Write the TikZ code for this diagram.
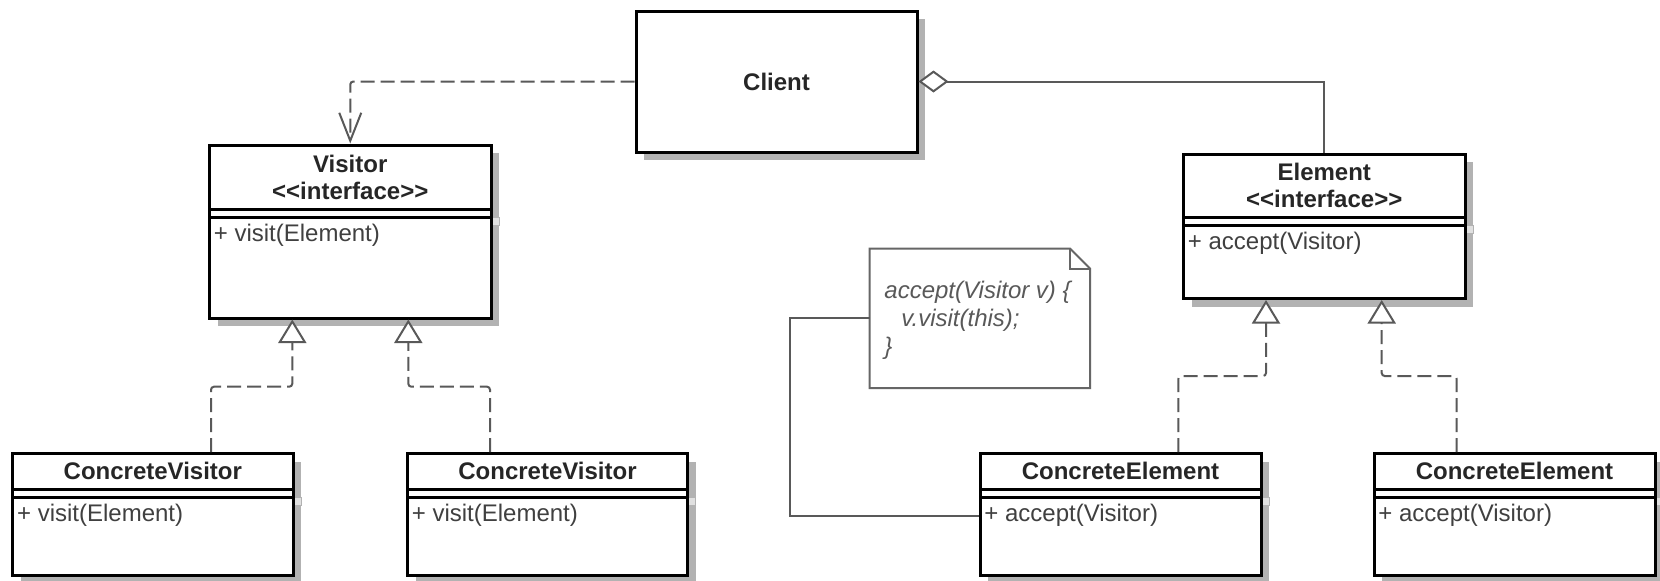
\documentclass[tikz,border=0pt]{standalone}
\usepackage{fontspec}
\setmainfont{Liberation Sans}
\usetikzlibrary{arrows.meta}

% stereotype brackets kept as separate characters (no guillemet ligature)
\newcommand\ltlt{<\kern0pt<}
\newcommand\gtgt{>\kern0pt>}

\tikzset{
  shadowfill/.style={fill=black!30},
  shadowrule/.style={draw=black!30, fill=black!12, line width=0.5pt},
  classframe/.style={draw=black, line width=1.5pt, fill=white, inner sep=0pt},
  classrule/.style={draw=black, line width=1.5pt},
  classtitle/.style={font=\bfseries\fontsize{12}{13.5}\selectfont, text=black!85, align=center, inner sep=0pt},
  classop/.style={anchor=west, font=\fontsize{12}{13.5}\selectfont, text=black!75, inner sep=0pt},
  connector/.style={draw=black!65, line width=1pt},
  realize/.style={connector, dash pattern=on 7pt off 3pt, rounded corners=1.5pt,
    -{Triangle[open, fill=white, length=11.75pt, width=14pt]}},
  depends/.style={connector, dash pattern=on 7pt off 3pt, rounded corners=1.5pt,
    -{Straight Barb[length=14pt, width=11pt]}},
  aggregate/.style={connector, {Diamond[open, fill=white, length=15pt, width=11pt]}-},
  notebody/.style={draw=black!60, line width=1pt, fill=white},
  notetext/.style={font=\itshape\fontsize{12}{14}\selectfont, text=black!65, align=left, inner sep=0pt, anchor=west},
}

% UML class: name, left, top, right, header bottom, operations top, bottom, title, operation
\newcommand\umlclass[9]{%
  \fill[shadowfill] ({#2+8},{#3+8}) rectangle ({#4+8},{#5+8});
  \fill[shadowfill] ({#2+8},{#6+8}) rectangle ({#4+8},{#7+8});
  \filldraw[shadowrule] ({#2+8},{#5+8}) rectangle ({#4+8},{#6+8});
  \node[classframe, minimum width={(#4-#2)*0.5pt}, minimum height={(#7-#3)*0.5pt}]
    (#1) at ({(#2+#4)/2},{(#3+#7)/2}) {};
  \draw[classrule] (#2,#5) -- (#4,#5) (#2,#6) -- (#4,#6);
  \node[classtitle] (#1-name) at ({(#2+#4)/2},{(#3+#5)/2}) {#8};
  \node[classop] (#1-op) at ({#2+4},{#6+18}) {#9};
}

\begin{document}
\begin{tikzpicture}[x=0.5pt, y=-0.5pt]
  \fill[white] (0,0) rectangle (1660,580);
  \useasboundingbox (0,0) rectangle (1660,580);

  % client
  \fill[shadowfill] (644,19) rectangle (925,160);
  \node[classframe, minimum width=140.5pt, minimum height=70.5pt,
        font=\bfseries\fontsize{12}{13.5}\selectfont, text=black!85]
    (client) at (776.5,81.5) {Client};

  % classes
  \umlclass{visitor}{209.5}{145}{491}{209.5}{217.5}{318}{Visitor\\\ltlt interface\gtgt}{+ visit(Element)}
  \umlclass{element}{1183.5}{154}{1465}{217.5}{225.5}{298.5}{Element\\\ltlt interface\gtgt}{+ accept(Visitor)}
  \umlclass{cv1}{12.7}{453.5}{293}{489}{497.5}{575.5}{ConcreteVisitor}{+ visit(Element)}
  \umlclass{cv2}{407.5}{453.5}{687.5}{489}{497.5}{575.5}{ConcreteVisitor}{+ visit(Element)}
  \umlclass{ce1}{980}{453.5}{1261}{489}{497.5}{575.5}{ConcreteElement}{+ accept(Visitor)}
  \umlclass{ce2}{1374}{453.5}{1655}{489}{497.5}{575.5}{ConcreteElement}{+ accept(Visitor)}

  % note with folded corner
  \node[minimum width=110.25pt, minimum height=69.75pt, inner sep=0pt, outer sep=0pt]
    (note) at (979.75,318.25) {};
  \draw[notebody] (note.north west) -- ([xshift=-10pt]note.north east)
    -- ([yshift=-10pt]note.north east) -- (note.south east) -- (note.south west) -- cycle;
  \draw[notebody, fill=none] ([xshift=-10pt]note.north east)
    -- ([xshift=-10pt,yshift=-10pt]note.north east) -- ([yshift=-10pt]note.north east);
  \node[notetext] (note-code) at (884,320)
    {accept(Visitor v) \{\\\hspace*{8.5pt}v.visit(this);\\\}};

  % relations
  \draw[depends] (client.west) -| (visitor.north);
  \draw[aggregate] (client.east) -| (element.north);
  \draw[realize] (cv1.north -| 211,0) -- (211,386.7) -| (visitor.south -| 292.3,0);
  \draw[realize] (cv2.north -| 490,0) -- (490,386.7) -| (visitor.south -| 408.3,0);
  \draw[realize] (ce1.north -| 1178.3,0) -- (1178.3,376) -| (element.south -| 1266,0);
  \draw[realize] (ce2.north -| 1456.7,0) -- (1456.7,376) -| (element.south -| 1381.7,0);
  \draw[connector] (note.west) -- (note.west -| 790,0) |- (ce1.west |- ce1-op);
\end{tikzpicture}
\end{document}
